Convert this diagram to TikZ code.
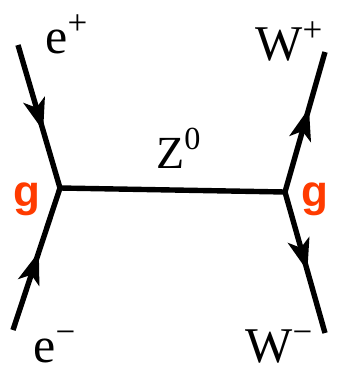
\documentclass[tikz,border=0pt]{standalone}
\usepackage{fontspec}
\setmainfont{Liberation Serif}
\newfontfamily\gfont{Liberation Sans}
\usetikzlibrary{arrows.meta,decorations.markings}
\definecolor{gred}{RGB}{255,59,0}
\tikzset{
  prop/.style={line width=2.7pt},
  fermion/.style={prop,postaction={decorate},decoration={markings,
    mark=at position #1 with {\arrow{Stealth[length=16pt,width=11pt,inset=4pt]}}}},
  lbl/.style={inner sep=0pt,anchor=base west,font=\fontsize{25}{30}\selectfont},
  glbl/.style={inner sep=0pt,anchor=base west,text=gred,font=\gfont\bfseries\fontsize{22}{26}\selectfont},
}
\begin{document}
\begin{tikzpicture}[x=0.5pt,y=-0.5pt]
\useasboundingbox (0,0) rectangle (340,376);
\coordinate (L) at (60,188);
\coordinate (R) at (285,192);
\coordinate (ep) at (18,45);
\coordinate (em) at (13,330);
\coordinate (wp) at (325,52);
\coordinate (wm) at (325,333);
\draw[fermion=0.6] (ep) -- (L);
\draw[fermion=0.55] (em) -- (L);
\draw[fermion=0.6] (R) -- (wp);
\draw[fermion=0.56] (R) -- (wm);
\draw[prop] (L) -- (R);
\node[lbl] (tep) at (45,53) {e\textsuperscript{+}};
\node[lbl] (tem) at (33,362) {e\textsuperscript{−}};
\node[lbl] (twp) at (255,60) {W\textsuperscript{+}};
\node[lbl] (twm) at (245,362) {W\textsuperscript{−}};
\node[lbl,font=\fontsize{23}{28}\selectfont] (tz) at (156,168) {Z\textsuperscript{0}};
\node[glbl] (gl) at (13,206) {g};
\node[glbl] (gr) at (301,206) {g};
\end{tikzpicture}
\end{document}
